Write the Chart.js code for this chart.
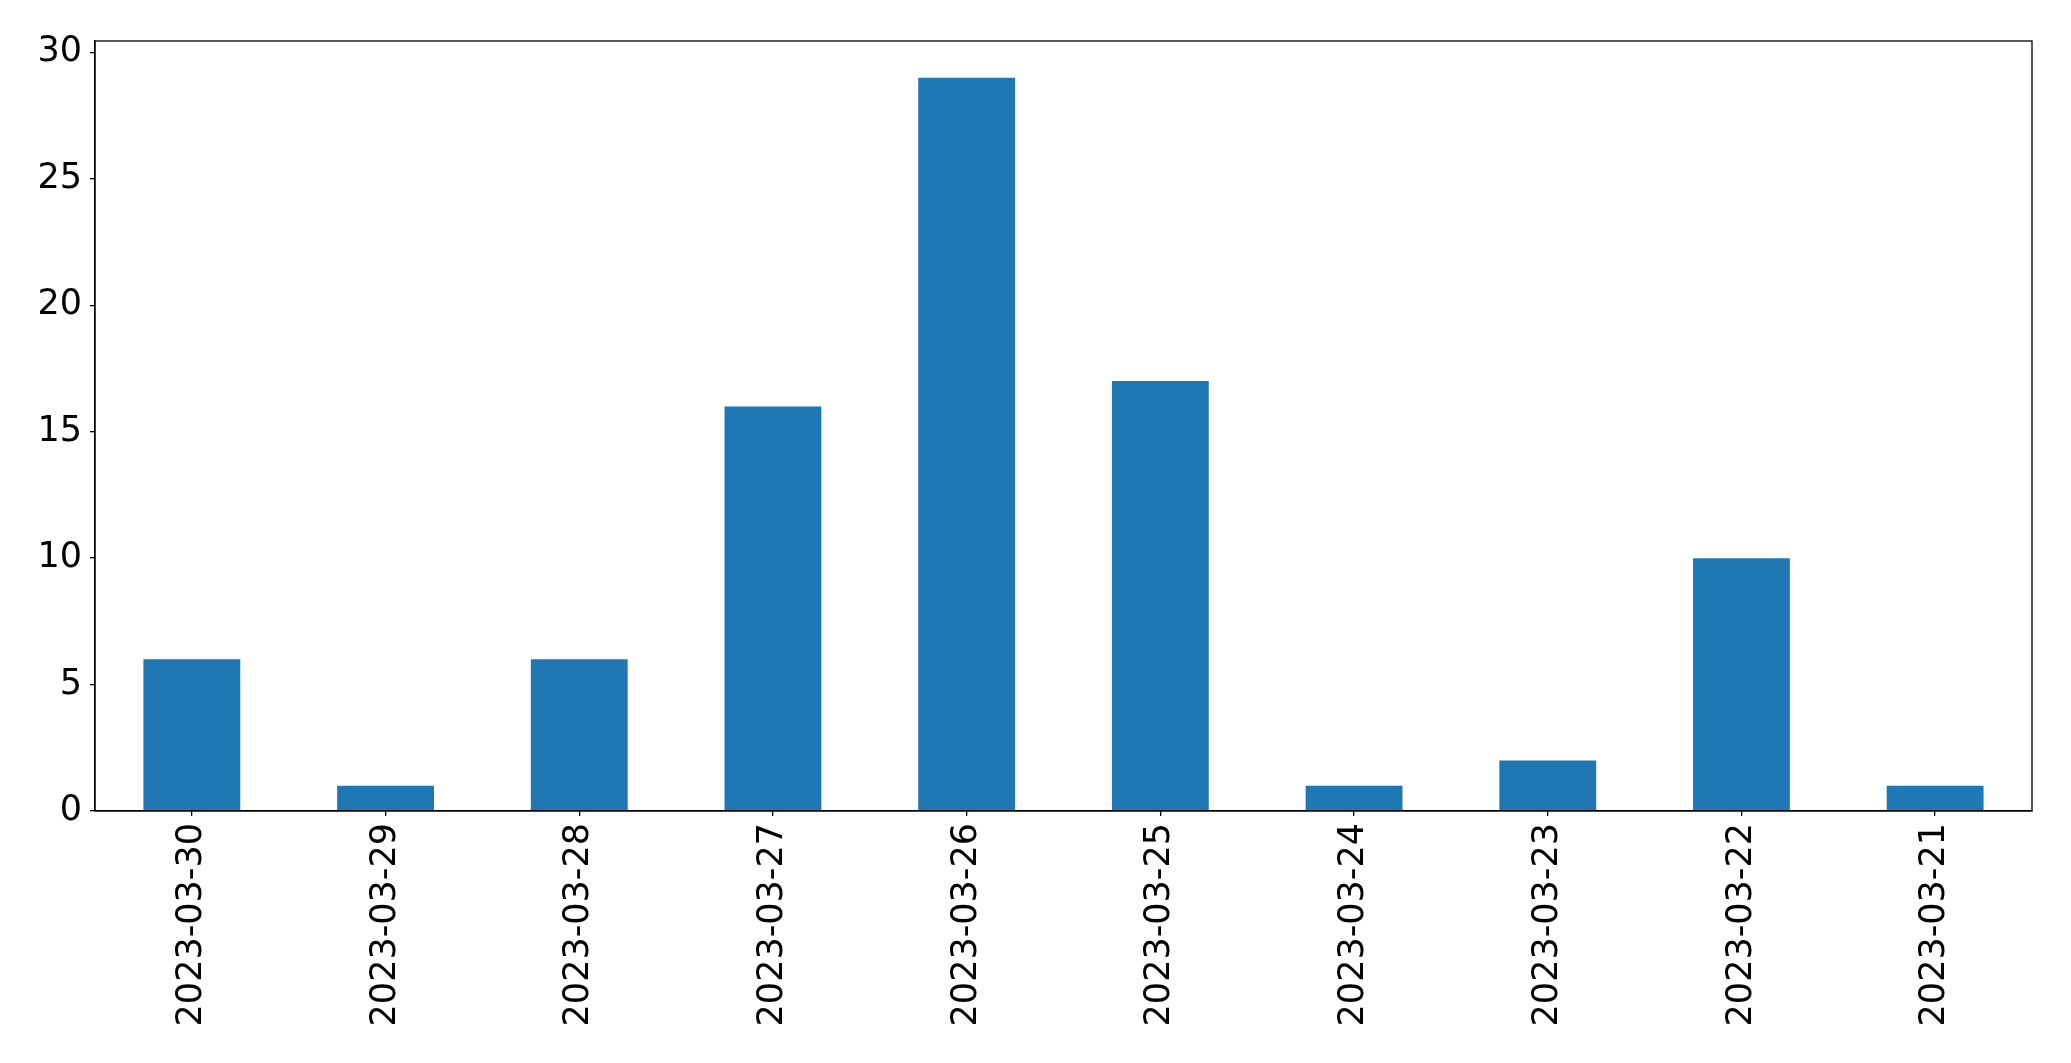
<!DOCTYPE html>
<html><head><meta charset="utf-8">
<script src="https://cdn.jsdelivr.net/npm/chart.js@4"></script>
<style>html,body{margin:0;padding:0;background:#fff}#wrap{width:2071px;height:1063px}</style>
</head><body><div id="wrap"><canvas id="c" width="2071" height="1063"></canvas></div>
<script>
const categories = ['2023-03-30','2023-03-29','2023-03-28','2023-03-27','2023-03-26','2023-03-25','2023-03-24','2023-03-23','2023-03-22','2023-03-21'];
const counts = [6,1,6,16,29,17,1,2,10,1];
const yTicks = [0,5,10,15,20,25,30];

const frame = {
  id:'frame',
  afterDraw(chart){
    const {ctx, chartArea:a} = chart;
    ctx.save(); ctx.strokeStyle='#000'; ctx.lineWidth=1.3;
    ctx.strokeRect(a.left, a.top, a.right-a.left, a.bottom-a.top);
    ctx.restore();
  }
};
new Chart(document.getElementById('c'), {
  type:'bar',
  data:{labels:categories, datasets:[{data:counts, backgroundColor:'#1f77b4', borderWidth:0, categoryPercentage:1, barPercentage:0.5}]},
  options:{
    responsive:false, animation:false,
    layout:{padding:{top:41, right:39, left:0, bottom:0}},
    plugins:{legend:{display:false}, tooltip:{enabled:false}},
    scales:{
      x:{
        offset:true,
        grid:{display:true, offset:false, drawOnChartArea:false, drawTicks:true, tickLength:5, tickColor:'#000', lineWidth:1.3},
        border:{display:true, color:'#000', width:1.3},
        ticks:{color:'#000', font:{family:'DejaVu Sans', size:35}, minRotation:90, maxRotation:90, padding:7, autoSkip:false},
        afterFit(s){ s.height = 252; }
      },
      y:{
        min:0, max:30.45,
        grid:{display:true, drawOnChartArea:false, drawTicks:true, tickLength:5, tickColor:'#000', lineWidth:1.3},
        border:{display:true, color:'#000', width:1.3},
        ticks:{color:'#000', font:{family:'DejaVu Sans', size:35}, stepSize:5, includeBounds:false, padding:8},
        afterBuildTicks(s){ s.ticks = yTicks.map(v=>({value:v})); },
        afterFit(s){ s.width = 95; }
      }
    }
  },
  plugins:[frame]
});
</script></body></html>
